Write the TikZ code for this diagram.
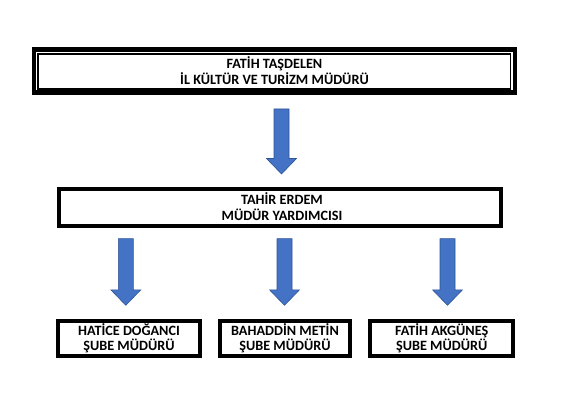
\documentclass[tikz,border=0pt]{standalone}
\usepackage{fontspec}
\setmainfont{Carlito}
\begin{document}
\begin{tikzpicture}[x=1pt,y=-1pt,
  lbl/.style={align=center,inner sep=0pt},
  barrow/.style={fill=arrowblue,draw=arrowedge,line width=0.6pt}]
\definecolor{arrowblue}{HTML}{4472C4}
\definecolor{arrowedge}{HTML}{2F5597}
\useasboundingbox (0,0) rectangle (564,419);
% top box (double border)
\draw[line width=4.3pt] (34,49.5) rectangle (515,92.5);
\draw[line width=1.5pt] (38.2,54.2) rectangle (510.5,89);
\node[lbl,font=\bfseries\fontsize{14.2}{11.5}\selectfont] (top) at (274.5,70.5) {FATİH TAŞDELEN\\İL KÜLTÜR VE TURİZM MÜDÜRÜ};
% middle box
\draw[line width=3.6pt] (59,189) rectangle (501,226);
\node[lbl,font=\bfseries\fontsize{14.2}{16}\selectfont] (mid) at (282,206.5) {TAHİR ERDEM\\MÜDÜR YARDIMCISI};
% bottom boxes
\draw[line width=4pt] (58,321) rectangle (200,356);
\draw[line width=4pt] (220.3,321) rectangle (349.7,356);
\draw[line width=4pt] (370.3,321) rectangle (513,356);
\node[lbl,font=\bfseries\fontsize{14.2}{15}\selectfont] (b1) at (129,338) {HATİCE DOĞANCI\\ŞUBE MÜDÜRÜ};
\node[lbl,font=\bfseries\fontsize{14.2}{15}\selectfont] (b2) at (285,338) {BAHADDİN METİN\\ŞUBE MÜDÜRÜ};
\node[lbl,font=\bfseries\fontsize{14.2}{15}\selectfont] (b3) at (441.7,338) {FATİH AKGÜNEŞ\\ŞUBE MÜDÜRÜ};
% block arrows
\newcommand{\blockarrow}[3]{% center x, top y, tip y
  \draw[barrow] (#1-7.5,#2) -- (#1+7.5,#2) -- (#1+7.5,#3-15.5) -- (#1+15,#3-15.5)
    -- (#1,#3) -- (#1-15,#3-15.5) -- (#1-7.5,#3-15.5) -- cycle;}
\blockarrow{281.5}{109}{174}
\blockarrow{125.8}{238.7}{305.3}
\blockarrow{284.5}{238.7}{305.3}
\blockarrow{447.5}{238.7}{305.3}
\end{tikzpicture}
\end{document}
